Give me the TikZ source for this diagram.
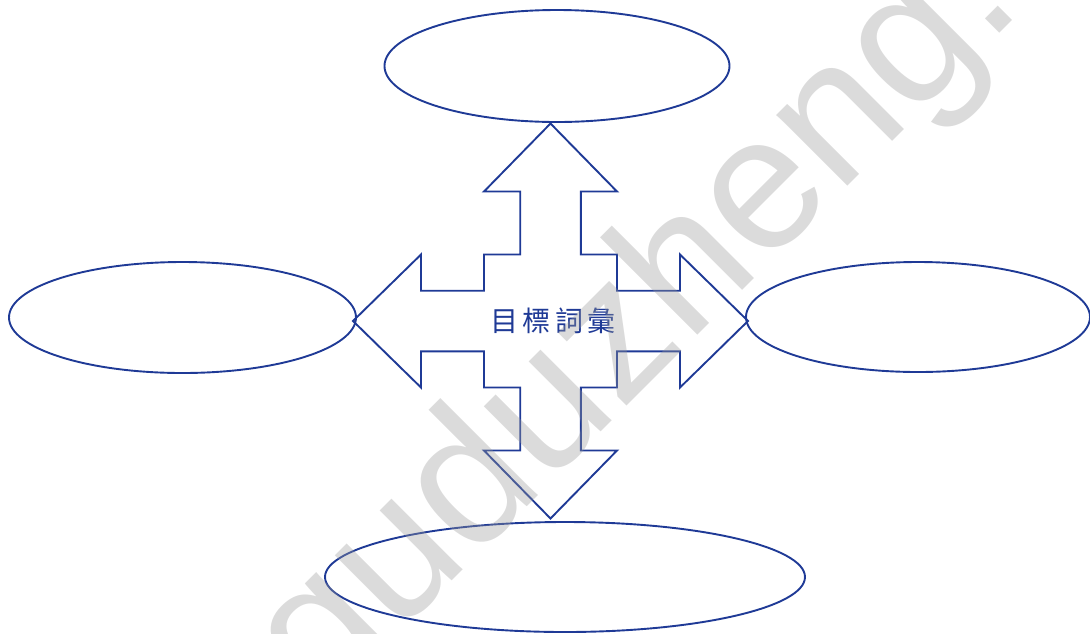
\documentclass[tikz,border=0pt]{standalone}
\usepackage{fontspec}
\setmainfont{Liberation Sans}
\newfontfamily\cjkfont[LetterSpace=15]{Noto Sans CJK TC}
\usetikzlibrary{shapes.geometric}
\definecolor{outline}{HTML}{1F3A96}
\tikzset{
	bubble/.style={draw=outline, line width=1.9pt, ellipse, inner sep=0pt},
	stamp/.style={text=black!40, opacity=.35, font=\fontsize{190}{190}\selectfont, rotate=45, anchor=base west, inner sep=0pt}
}

\begin{document}
\begin{tikzpicture}[x=1pt, y=-1pt]
				\useasboundingbox (0,0) rectangle (1090,633);
				\node[shape=coordinate] (c) at (550.5,321) {};
				\node[bubble, minimum width=345pt, minimum height=112pt] (up)    at (557,66)    {};
				\node[bubble, minimum width=347pt, minimum height=111pt] (left)  at (182.5,317.5) {};
				\node[bubble, minimum width=344pt, minimum height=110pt] (right) at (918,317)   {};
				\node[bubble, minimum width=480pt, minimum height=110pt] (down)  at (565,577)   {};
				\begin{scope}[shift={(c)}, draw=outline, line width=1.9pt]
					\draw (0,-197.5) -- (66.5,-129.5) -- (30.3,-129.5) -- (30.3,-66.5) -- (66.5,-66.5) -- (66.5,-30.3)
						-- (129.5,-30.3) -- (129.5,-66.5) -- (197.5,0) -- (129.5,66.5) -- (129.5,30.3) -- (66.5,30.3)
						-- (66.5,66.5) -- (30.3,66.5) -- (30.3,129.5) -- (66.5,129.5) -- (0,197.5) -- (-66.5,129.5)
						-- (-30.3,129.5) -- (-30.3,66.5) -- (-66.5,66.5) -- (-66.5,30.3) -- (-129.5,30.3) -- (-129.5,66.5)
						-- (-197.5,0) -- (-129.5,-66.5) -- (-129.5,-30.3) -- (-66.5,-30.3) -- (-66.5,-66.5) -- (-30.3,-66.5)
						-- (-30.3,-129.5) -- (-66.5,-129.5) -- cycle;
				\end{scope}
				\node[text=outline, font=\cjkfont\fontsize{28}{28}\selectfont] (word) at (553,321) {目標詞彙};
				\begin{scope}
					\clip (0,0) rectangle (1090,633);
					\node[stamp] (mark) at (322.5,710.6) {quduzheng.com};
				\end{scope}
\end{tikzpicture}
\end{document}
